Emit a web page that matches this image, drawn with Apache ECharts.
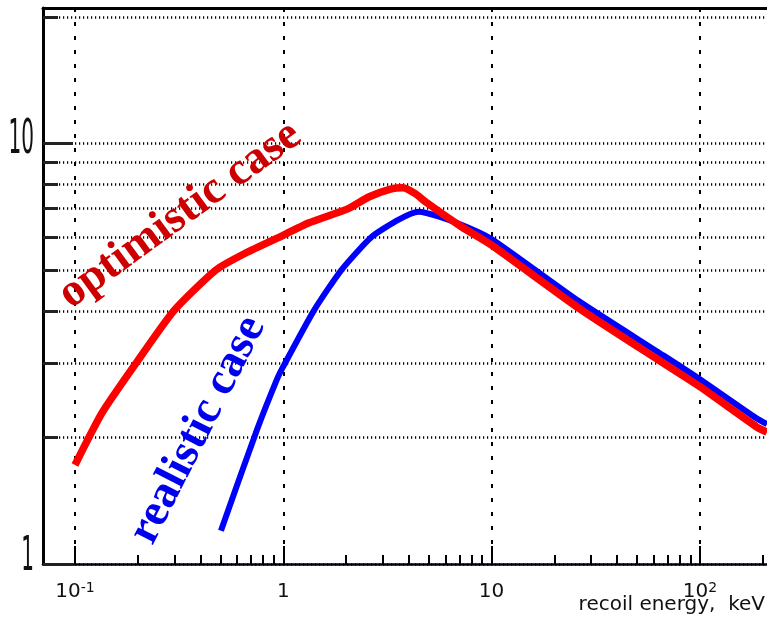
<!DOCTYPE html>
<html>
<head>
<meta charset="utf-8">
<script src="https://cdn.jsdelivr.net/npm/echarts@6/dist/echarts.min.js"></script>
<style>
html,body{margin:0;padding:0;background:#fff;}
#c{width:767px;height:617px;}
</style>
</head>
<body>
<div id="c"></div>
<script>
// ---- data ----
const energyRed = [0.1, 0.135, 0.196, 0.298, 0.474, 0.66, 1.0, 1.32, 2.05, 2.57, 3.3, 3.75, 4.3, 4.83, 7.2, 10, 26.2, 67, 100, 187, 210];
const rateRed   = [1.72, 2.29, 3.0, 4.0, 5.0, 5.49, 6.05, 6.47, 7.0, 7.46, 7.8, 7.85, 7.6, 7.26, 6.33, 5.73, 4.06, 3.0, 2.64, 2.12, 2.06];
const energyBlue = [0.502, 0.738, 0.93, 1.0, 1.4, 1.9, 2.66, 3.6, 4.46, 5.6, 7.5, 10, 26.2, 67, 100, 187, 210];
const rateBlue   = [1.2, 2.05, 2.74, 2.95, 4.0, 5.0, 6.0, 6.6, 6.88, 6.7, 6.35, 5.93, 4.22, 3.13, 2.75, 2.22, 2.15];
const xRange = [0.0702, 210];
const yRange = [1, 21];
const xMajorTicks = [0.1, 1, 10, 100];
const xMinorTicks = [0.2,0.3,0.4,0.5,0.6,0.7,0.8,0.9, 2,3,4,5,6,7,8,9, 20,30,40,50,60,70,80,90, 200];
const yMajorTicks = [1, 10];
const yMinorTicks = [2,3,4,5,6,7,8,9,20];
const xTickLabels = {'-1': ['10','-1'], '0': ['1'], '1': ['10'], '2': ['10','2']};
const yTickLabels = ['1', '10'];
const xTitle = 'recoil energy,  keV';
const labelRed = 'optimistic case';
const labelBlue = 'realistic case';

const L = Math.log10;
const pts = (xs, ys) => xs.map((x, i) => [L(x), L(ys[i])]);
const xMin = L(xRange[0]), xMax = L(xRange[1]);
const yMin = L(yRange[0]), yMax = L(yRange[1]);

const chart = echarts.init(document.getElementById('c'));
const hide = {show: false};
const dotLine = {color: '#000', width: 2.5, type: [1.2, 2.8]};

const option = {
  animation: false,
  backgroundColor: '#fff',
  grid: {left: 43, right: 0, top: 8, bottom: 53, containLabel: false, outerBoundsMode: 'none'},
  xAxis: [
    {
      type: 'value', min: xMin, max: xMax, position: 'bottom',
      axisLine: {show: true, onZero: false, lineStyle: {color: '#000010', width: 2.5}},
      axisTick: {show: true, inside: true, length: 18, customValues: xMajorTicks.map(L), lineStyle: {color: '#000', width: 2}},
      axisLabel: {
        show: true, margin: 15, customValues: xMajorTicks.map(L),
        formatter: v => {
          const t = xTickLabels[String(Math.round(v))];
          return t.length > 1 ? '{b|' + t[0] + '}{s|' + t[1] + '}' : '{b|' + t[0] + '}';
        },
        rich: {
          b: {fontFamily: 'DejaVu Sans', fontSize: 20, lineHeight: 26, color: '#111'},
          s: {fontFamily: 'DejaVu Sans', fontSize: 14, lineHeight: 14, padding: [0, 0, 8, 0], color: '#111'}
        }
      },
      splitLine: {show: true, lineStyle: {color: '#000', width: 2, type: [4, 10]}}
    },
    {
      type: 'value', min: xMin, max: xMax, position: 'bottom',
      axisLine: {show: false, onZero: false},
      axisTick: {show: true, inside: true, length: 9, customValues: xMinorTicks.map(L), lineStyle: {color: '#000', width: 2}},
      axisLabel: hide, splitLine: hide
    },
    {
      type: 'value', min: xMin, max: xMax, position: 'top',
      axisLine: {show: true, onZero: false, lineStyle: {color: '#000', width: 3}},
      axisTick: hide, axisLabel: hide, splitLine: hide
    }
  ],
  yAxis: [
    {
      type: 'value', min: yMin, max: yMax, position: 'left',
      axisLine: {show: true, onZero: false, lineStyle: {color: '#000', width: 3}},
      axisTick: {show: true, inside: true, length: 30, customValues: yMajorTicks.map(L), lineStyle: {color: '#222', width: 3}},
      axisLabel: hide,
      splitLine: {show: true, lineStyle: dotLine}
    },
    {
      type: 'value', min: yMin, max: yMax, position: 'left',
      axisLine: {show: false, onZero: false},
      axisTick: {show: true, inside: true, length: 15, customValues: yMinorTicks.map(L), lineStyle: {color: '#222', width: 3}},
      axisLabel: hide,
      splitLine: {show: true, lineStyle: dotLine}
    }
  ],
  series: [
    {
      name: labelBlue, type: 'line', xAxisIndex: 0, yAxisIndex: 0,
      data: pts(energyBlue, rateBlue), showSymbol: false, smooth: 0.2,
      lineStyle: {color: '#0000ff', width: 6}, z: 3
    },
    {
      name: labelRed, type: 'line', xAxisIndex: 0, yAxisIndex: 0,
      data: pts(energyRed, rateRed), showSymbol: false, smooth: 0.2,
      lineStyle: {color: '#ff0000', width: 7.5}, z: 4
    }
  ]
};
chart.setOption(option);

// y tick labels (vertically stretched like the original), placed through the axis scale
const yLabelGraphics = yMajorTicks.map((v, i) => ({
  type: 'text',
  x: 34,
  y: chart.convertToPixel({yAxisIndex: 0}, L(v)) - (i === 0 ? 6 : 3),
  scaleY: 2.4,
  style: {text: yTickLabels[i], font: '20px "DejaVu Sans"', fill: '#111', textAlign: 'right', textVerticalAlign: 'middle'},
  z: 10
}));

chart.setOption({
  graphic: yLabelGraphics.concat([
    {
      type: 'text', x: 765, y: 595, z: 10,
      style: {text: xTitle, font: '20px "DejaVu Sans"', fill: '#111', textAlign: 'right', textVerticalAlign: 'top'}
    },
    {
      type: 'text', x: 180, y: 215, rotation: 36 * Math.PI / 180, z: 20,
      style: {text: labelRed, font: 'bold 46px "Liberation Serif"', fill: '#cc0000', textAlign: 'center', textVerticalAlign: 'middle'}
    },
    {
      type: 'text', x: 198, y: 430, rotation: 63 * Math.PI / 180, z: 20,
      style: {text: labelBlue, font: 'bold 46px "Liberation Serif"', fill: '#0000f0', textAlign: 'center', textVerticalAlign: 'middle'}
    }
  ])
});
</script>
</body>
</html>
